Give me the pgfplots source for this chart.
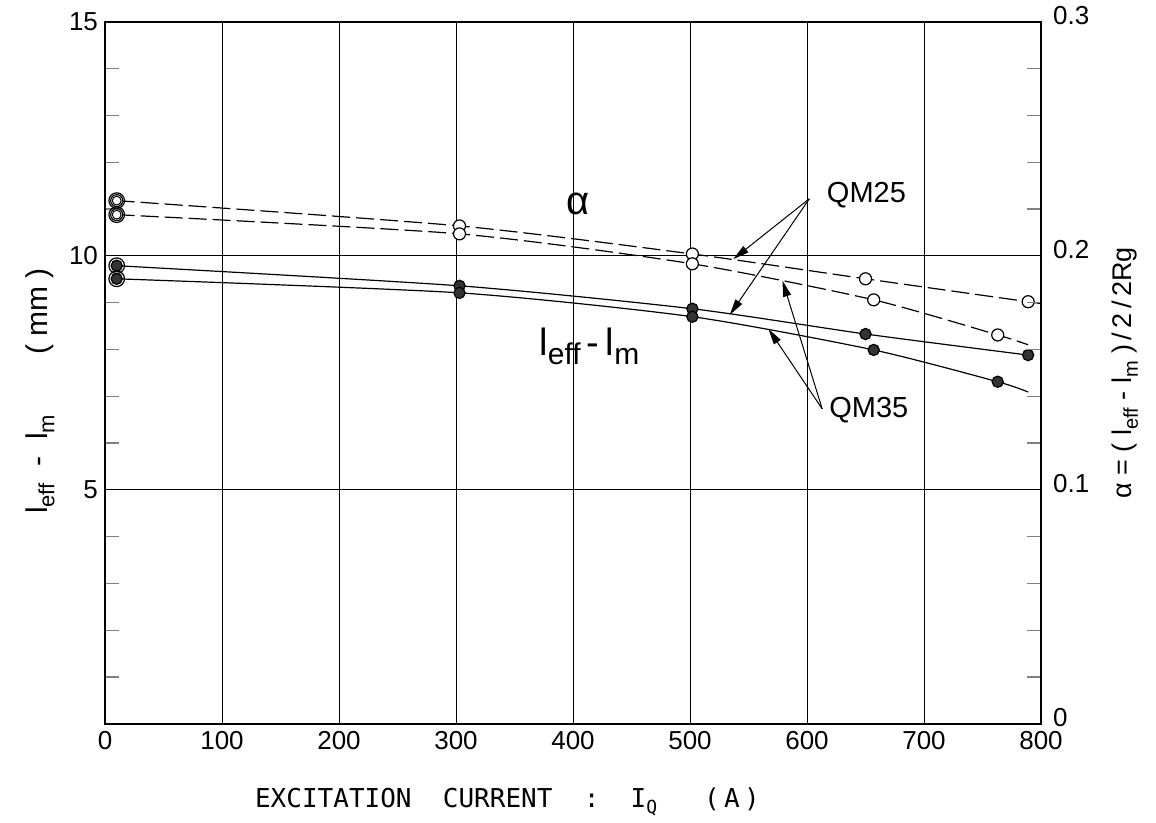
\documentclass[border=0pt]{standalone}
\usepackage{fontspec}
\setmainfont{Liberation Sans}
\newfontfamily\labelfont{DejaVu Sans Mono}
\usepackage{pgfplots}
\pgfplotsset{compat=1.18}
\usetikzlibrary{arrows.meta}

% lowered subscript in the text font
\newcommand{\dn}[2]{\raisebox{-0.45ex}{\fontsize{#1}{#1}\selectfont #2}}

% measured points: I (A), value (mm)
\pgfplotstableread{
x y
10 11.18
303 10.64
502 10.04
650 9.51
789 9.02
}\alphaA
\pgfplotstableread{
x y
10 10.88
303 10.47
502 9.83
657 9.06
763 8.31
}\alphaB
\pgfplotstableread{
x y
10 9.79
303 9.36
502 8.87
650 8.33
789 7.88
}\leffA
\pgfplotstableread{
x y
10 9.51
303 9.21
502 8.70
657 7.99
763 7.31
}\leffB

\begin{document}
\begin{tikzpicture}
\begin{axis}[
  scale only axis, width=468pt, height=351pt,
  xmin=0, xmax=800, ymin=0, ymax=15,
  xtick={0,100,...,800},
  ytick={0,5,10,15}, yticklabels={,5,10,15},
  minor ytick={1,2,3,4,6,7,8,9,11,12,13,14},
  ytick pos=left, xtick pos=bottom,
  xmajorgrids, ymajorgrids,
  grid style={black, line width=0.5pt},
  axis line style={line width=0.9pt},
  tick align=inside, major tick length=0pt, minor tick length=7pt,
  minor tick style={line width=0.7pt},
  tick label style={font=\fontsize{13}{13}\selectfont},
  /pgf/number format/assume math mode=true,
  xlabel={\labelfont\fontsize{13}{13}\selectfont EXCITATION\ \ CURRENT\ \ :\ \ I\dn{9}{Q}\ \ \ (\,A\,)},
  xlabel style={at={(axis description cs:0.43,-0.111)}, anchor=center},
  ylabel={\fontsize{15}{15}\selectfont l\dn{11}{eff}\ \ -\ \ l\dn{11}{m}\hspace{2em}(\ mm\ )},
  ylabel style={at={(axis description cs:-0.0695,0.474)}, anchor=center},
  clip=false,
]
% curves
\addplot[black, line width=0.6pt, dash pattern=on 9pt off 3pt, smooth, tension=0.4]
  coordinates {(10,11.18) (303,10.64) (502,10.04) (650,9.51) (789,9.02) (800,8.98)};
\addplot[black, line width=0.6pt, dash pattern=on 9pt off 3pt, smooth, tension=0.4]
  coordinates {(10,10.88) (303,10.47) (502,9.83) (657,9.06) (763,8.31) (789,8.10)};
\addplot[black, line width=0.6pt, smooth, tension=0.4]
  coordinates {(10,9.79) (303,9.36) (502,8.87) (650,8.33) (789,7.88)};
\addplot[black, line width=0.6pt, smooth, tension=0.4]
  coordinates {(10,9.51) (303,9.21) (502,8.70) (657,7.99) (763,7.31) (789,7.09)};
% open markers
\addplot[only marks, mark=*, mark size=3pt, mark options={fill=white, draw=black, line width=0.6pt}] table {\alphaA};
\addplot[only marks, mark=*, mark size=3pt, mark options={fill=white, draw=black, line width=0.6pt}] table {\alphaB};
% filled markers
\addplot[only marks, mark=*, mark size=2.8pt, mark options={fill=black!80, draw=black, line width=0.6pt}] table {\leffA};
\addplot[only marks, mark=*, mark size=2.8pt, mark options={fill=black!80, draw=black, line width=0.6pt}] table {\leffB};
% double rings at the first current
\addplot[only marks, mark=o, mark size=3.9pt, mark options={draw=black, line width=0.6pt}]
  coordinates {(10,11.18) (10,10.88) (10,9.79) (10,9.51)};
\addplot[only marks, mark=o, mark size=2.2pt, mark options={draw=black, line width=0.5pt}]
  coordinates {(10,11.18) (10,10.88)};

% annotations
\node[font=\fontsize{20}{20}\selectfont] at (axis cs:404,11.12) {α};
\node[font=\fontsize{19}{19}\selectfont] at (axis cs:414,8.06) {l\dn{15}{eff}\,-\,l\dn{15}{m}};
\node[anchor=west, font=\fontsize{14.5}{14.5}\selectfont] at (axis cs:611,11.3) {QM25};
\node[anchor=west, font=\fontsize{14.5}{14.5}\selectfont] at (axis cs:613,6.71) {QM35};
\draw[line width=0.5pt, -{Triangle[length=8pt,width=4pt]}] (axis cs:602,11.22) -- (axis cs:537,9.93);
\draw[line width=0.5pt, -{Triangle[length=8pt,width=4pt]}] (axis cs:602,11.22) -- (axis cs:534,8.74);
\draw[line width=0.5pt, -{Triangle[length=8pt,width=4pt]}] (axis cs:613,6.73) -- (axis cs:579,9.47);
\draw[line width=0.5pt, -{Triangle[length=8pt,width=4pt]}] (axis cs:613,6.73) -- (axis cs:567,8.44);

\coordinate (bl) at (rel axis cs:0,0);
\coordinate (tr) at (rel axis cs:1,1);
\end{axis}

\begin{axis}[
  scale only axis, width=468pt, height=351pt,
  xmin=0, xmax=800, ymin=0, ymax=0.3,
  axis x line=none, axis y line*=right,
  axis line style={line width=0.9pt, -},
  ytick={0,0.1,0.2,0.3},
  minor ytick={0.02,0.04,0.06,0.08,0.12,0.14,0.16,0.18,0.22,0.24,0.26,0.28},
  tick align=inside, major tick length=0pt, minor tick length=7pt,
  minor tick style={line width=0.7pt},
  tick label style={font=\fontsize{13}{13}\selectfont},
  yticklabel style={yshift=3pt, xshift=2.5pt},
  /pgf/number format/assume math mode=true,
  /pgf/number format/fixed,
  ylabel={\fontsize{13.5}{13.5}\selectfont α = (\ l\dn{10}{eff}\ -\ l\dn{10}{m}\ )\,/\,2\,/\,2Rg},
  ylabel style={at={(axis description cs:1.0897,0.5)}, anchor=center},
]
\end{axis}

\path (bl) ++(-52.5pt,-45.5pt);
\path (tr) ++(57.5pt,10pt);
\end{tikzpicture}
\end{document}
